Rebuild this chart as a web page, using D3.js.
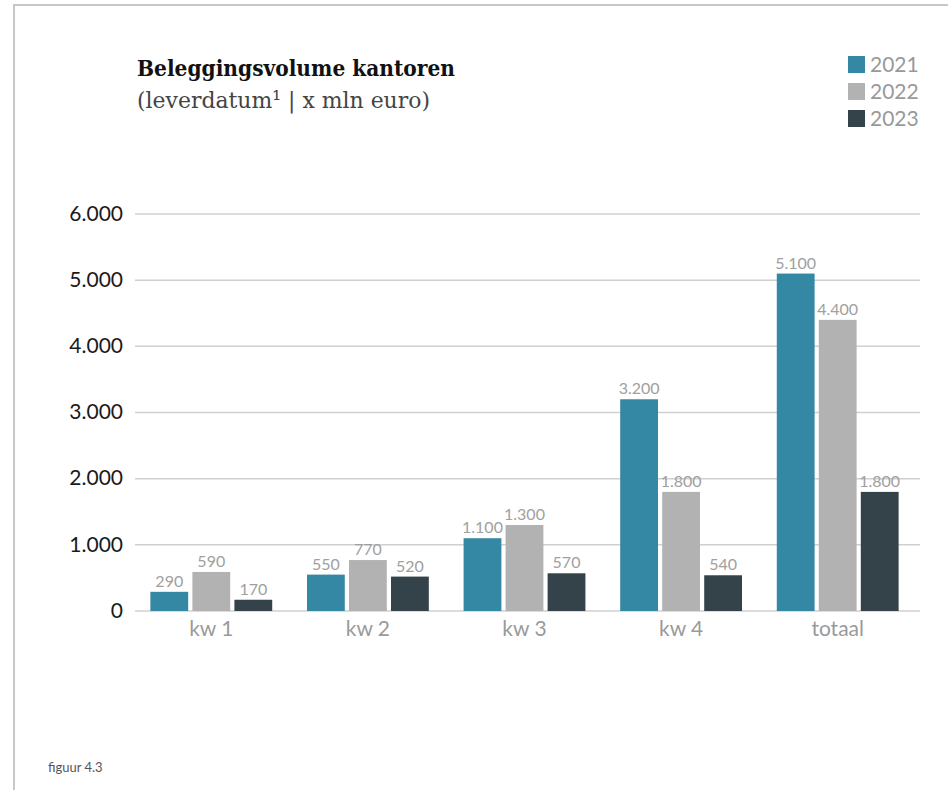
<!DOCTYPE html>
<html>
<head>
<meta charset="utf-8">
<script src="https://cdn.jsdelivr.net/npm/d3@7"></script>
<style>
  html, body { margin: 0; padding: 0; background: #fff; }
  svg { display: block; }
</style>
</head>
<body>
<svg id="chart" width="948" height="790"></svg>
<script>
// Beleggingsvolume kantoren per kwartaal (x mln euro)
const categories = ["kw 1", "kw 2", "kw 3", "kw 4", "totaal"];
const years = ["2021", "2022", "2023"];
const values2021 = [290, 550, 1100, 3200, 5100];
const values2022 = [590, 770, 1300, 1800, 4400];
const values2023 = [170, 520, 570, 540, 1800];
const yTicks = [0, 1000, 2000, 3000, 4000, 5000, 6000];
const colors = ["#3588a4", "#b2b2b2", "#334349"];

const seriesValues = [values2021, values2022, values2023];
const fmt = v => d3.format(",")(v).replace(/,/g, ".");

const svg = d3.select("#chart");

// page frame
svg.append("line").attr("x1", 14).attr("x2", 948).attr("y1", 5).attr("y2", 5)
  .attr("stroke", "#c8c8c8").attr("stroke-width", 2);
svg.append("line").attr("x1", 14).attr("x2", 14).attr("y1", 4).attr("y2", 790)
  .attr("stroke", "#c8c8c8").attr("stroke-width", 2);

// title
svg.append("text").attr("x", 137).attr("y", 76)
  .attr("font-family", "DejaVu Serif").attr("font-weight", "bold")
  .attr("font-size", 23).attr("fill", "#111")
  .attr("textLength", 318).attr("lengthAdjust", "spacingAndGlyphs")
  .text("Beleggingsvolume kantoren");

svg.append("text").attr("x", 137).attr("y", 108)
  .attr("font-family", "DejaVu Serif").attr("font-size", 23).attr("fill", "#444")
  .attr("textLength", 293).attr("lengthAdjust", "spacingAndGlyphs")
  .text("(leverdatum\u00B9 | x mln euro)");

// legend
const legend = svg.append("g");
years.forEach((yr, i) => {
  legend.append("rect").attr("x", 848).attr("y", 56 + i * 27)
    .attr("width", 17).attr("height", 17).attr("fill", colors[i]);
  legend.append("text").attr("x", 870).attr("y", 72 + i * 27)
    .attr("font-family", "Lato").attr("font-size", 21).attr("fill", "#999")
    .text(yr);
});

// scales
const y = d3.scaleLinear().domain([0, 6000]).range([611, 214]);
const x0 = d3.scaleBand().domain(categories).range([133, 916])
  .paddingInner(0.222).paddingOuter(0.111);
const x1 = d3.scaleBand().domain(years).range([0, x0.bandwidth()]).paddingInner(0.1);

// gridlines
svg.append("g").selectAll("line").data(yTicks).join("line")
  .attr("x1", 135).attr("x2", 920)
  .attr("y1", d => y(d)).attr("y2", d => y(d))
  .attr("stroke", "#d0d0d0").attr("stroke-width", 1.5);

// y axis labels
const yAxis = d3.axisLeft(y).tickValues(yTicks).tickFormat(fmt).tickSize(0).tickPadding(0);
const yg = svg.append("g").attr("transform", "translate(123,0)").call(yAxis);
yg.select(".domain").remove();
yg.selectAll("text").attr("font-family", "Lato").attr("font-size", 21)
  .attr("fill", "#1a1a1a").attr("dy", "0.3em");

// x axis labels
const xAxis = d3.axisBottom(x0).tickSize(0).tickPadding(0);
const xg = svg.append("g").attr("transform", "translate(0,621)").call(xAxis);
xg.select(".domain").remove();
xg.selectAll("text").attr("font-family", "Lato").attr("font-size", 21)
  .attr("fill", "#9a9a9a").attr("dy", "0.71em");

// bars
const groups = svg.append("g").selectAll("g").data(categories).join("g")
  .attr("transform", d => `translate(${x0(d)},0)`);

groups.each(function (cat, ci) {
  const g = d3.select(this);
  const data = years.map((yr, si) => ({ yr, si, v: seriesValues[si][ci] }));
  g.selectAll("rect").data(data).join("rect")
    .attr("x", d => x1(d.yr)).attr("width", x1.bandwidth())
    .attr("y", d => y(d.v)).attr("height", d => y(0) - y(d.v))
    .attr("fill", d => colors[d.si]);
  g.selectAll("text").data(data).join("text")
    .attr("x", d => x1(d.yr) + x1.bandwidth() / 2)
    .attr("y", d => y(d.v) - 5)
    .attr("text-anchor", "middle")
    .attr("font-family", "Lato").attr("font-size", 16).attr("fill", "#a0a0a0")
    .text(d => fmt(d.v));
});

// figure number
svg.append("text").attr("x", 48).attr("y", 772)
  .attr("font-family", "Lato").attr("font-size", 13).attr("fill", "#555")
  .text("figuur 4.3");
</script>
</body>
</html>
